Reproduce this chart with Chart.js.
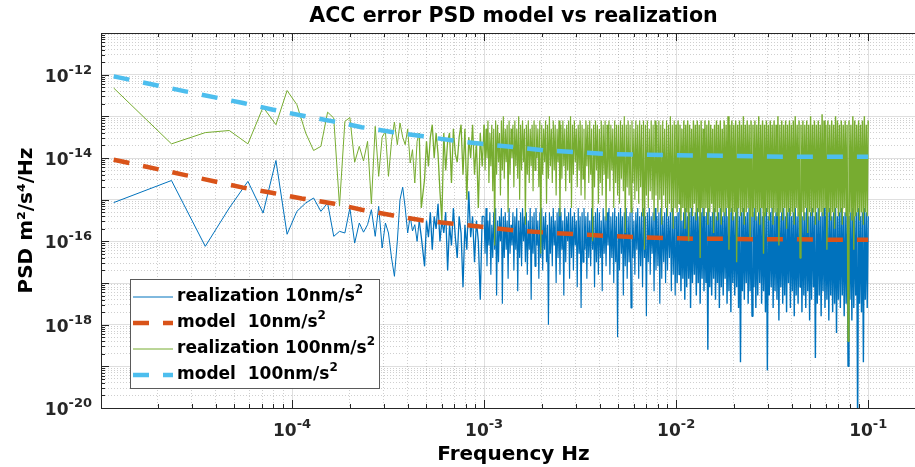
<!DOCTYPE html>
<html>
<head>
<meta charset="utf-8">
<title>ACC error PSD model vs realization</title>
<script src="https://cdn.jsdelivr.net/npm/chart.js@4/dist/chart.umd.min.js"></script>
<style>
  html, body { margin: 0; padding: 0; background: #fff; overflow: hidden; }
  #wrap { width: 915px; height: 467px; overflow: hidden; }
  canvas { display: block; }
</style>
</head>
<body>
<div id="wrap"><canvas id="psdChart" width="926" height="467"></canvas></div>
<script>
// all values are log10 numbers
// frequency grid (log10 Hz), shared by both realizations
const freqLog = [
  -4.929, -4.628, -4.452, -4.327, -4.230, -4.151, -4.084, -4.026, -3.975, -3.929,
  -3.888, -3.850, -3.815, -3.783, -3.753, -3.725, -3.699, -3.674, -3.650, -3.628,
  -3.607, -3.587, -3.567, -3.549, -3.531, -3.514, -3.498, -3.482, -3.467, -3.452,
  -3.438, -3.424, -3.411, -3.398, -3.385, -3.373, -3.361, -3.349, -3.338, -3.327,
  -3.31, -3.30, -3.29, -3.28, -3.27, -3.26, -3.25, -3.24, -3.23, -3.22,
  -3.21, -3.20, -3.19, -3.18, -3.17, -3.16, -3.15, -3.14, -3.13, -3.12,
  -3.11, -3.10, -3.09, -3.08, -3.07, -3.06, -3.05, -3.04, -3.03, -3.02,
  -3.01,
  -3.000, -2.995, -2.990, -2.985, -2.980, -2.975, -2.970, -2.965, -2.960, -2.955,
  -2.950, -2.945, -2.940, -2.935, -2.930, -2.925, -2.920, -2.915, -2.910, -2.905,
  -2.900, -2.895, -2.890, -2.885, -2.880, -2.875, -2.870, -2.865, -2.860, -2.855,
  -2.850, -2.845, -2.840, -2.835, -2.830, -2.825, -2.820, -2.815, -2.810, -2.805,
  -2.800, -2.795, -2.790, -2.785, -2.780, -2.775, -2.770, -2.765, -2.760, -2.755,
  -2.750, -2.745, -2.740, -2.735, -2.730, -2.725, -2.720, -2.715, -2.710, -2.705,
  -2.700, -2.695, -2.690, -2.685, -2.680, -2.675, -2.670, -2.665, -2.660, -2.655,
  -2.650, -2.645, -2.640, -2.635, -2.630, -2.625, -2.620, -2.615, -2.610, -2.605,
  -2.600, -2.595, -2.590, -2.585, -2.580, -2.575, -2.570, -2.565, -2.560, -2.555,
  -2.550, -2.545, -2.540, -2.535, -2.530, -2.525, -2.520, -2.515, -2.510, -2.505,
  -2.500, -2.495, -2.490, -2.485, -2.480, -2.475, -2.470, -2.465, -2.460, -2.455,
  -2.450, -2.445, -2.440, -2.435, -2.430, -2.425, -2.420, -2.415, -2.410, -2.405,
  -2.400, -2.395, -2.390, -2.385, -2.380, -2.375, -2.370, -2.365, -2.360, -2.355,
  -2.350, -2.345, -2.340, -2.335, -2.330, -2.325, -2.320, -2.315, -2.310, -2.305,
  -2.300, -2.295, -2.290, -2.285, -2.280, -2.275, -2.270, -2.265, -2.260, -2.255,
  -2.250, -2.245, -2.240, -2.235, -2.230, -2.225, -2.220, -2.215, -2.210, -2.205,
  -2.200, -2.195, -2.190, -2.185, -2.180, -2.175, -2.170, -2.165, -2.160, -2.155,
  -2.150, -2.145, -2.140, -2.135, -2.130, -2.125, -2.120, -2.115, -2.110, -2.105,
  -2.100, -2.095, -2.090, -2.085, -2.080, -2.075, -2.070, -2.065, -2.060, -2.055,
  -2.050, -2.045, -2.040, -2.035, -2.030, -2.025, -2.020, -2.015, -2.010, -2.005,
  -2.000, -1.995, -1.990, -1.985, -1.980, -1.975, -1.970, -1.965, -1.960, -1.955,
  -1.950, -1.945, -1.940, -1.935, -1.930, -1.925, -1.920, -1.915, -1.910, -1.905,
  -1.900, -1.895, -1.890, -1.885, -1.880, -1.875, -1.870, -1.865, -1.860, -1.855,
  -1.850, -1.845, -1.840, -1.835, -1.830, -1.825, -1.820, -1.815, -1.810, -1.805,
  -1.800, -1.795, -1.790, -1.785, -1.780, -1.775, -1.770, -1.765, -1.760, -1.755,
  -1.750, -1.745, -1.740, -1.735, -1.730, -1.725, -1.720, -1.715, -1.710, -1.705,
  -1.700, -1.695, -1.690, -1.685, -1.680, -1.675, -1.670, -1.665, -1.660, -1.655,
  -1.650, -1.645, -1.640, -1.635, -1.630, -1.625, -1.620, -1.615, -1.610, -1.605,
  -1.600, -1.595, -1.590, -1.585, -1.580, -1.575, -1.570, -1.565, -1.560, -1.555,
  -1.550, -1.545, -1.540, -1.535, -1.530, -1.525, -1.520, -1.515, -1.510, -1.505,
  -1.500, -1.495, -1.490, -1.485, -1.480, -1.475, -1.470, -1.465, -1.460, -1.455,
  -1.450, -1.445, -1.440, -1.435, -1.430, -1.425, -1.420, -1.415, -1.410, -1.405,
  -1.400, -1.395, -1.390, -1.385, -1.380, -1.375, -1.370, -1.365, -1.360, -1.355,
  -1.350, -1.345, -1.340, -1.335, -1.330, -1.325, -1.320, -1.315, -1.310, -1.305,
  -1.300, -1.295, -1.290, -1.285, -1.280, -1.275, -1.270, -1.265, -1.260, -1.255,
  -1.250, -1.245, -1.240, -1.235, -1.230, -1.225, -1.220, -1.215, -1.210, -1.205,
  -1.200, -1.195, -1.190, -1.185, -1.180, -1.175, -1.170, -1.165, -1.160, -1.155,
  -1.150, -1.145, -1.140, -1.135, -1.130, -1.125, -1.120, -1.115, -1.110, -1.105,
  -1.100, -1.095, -1.090, -1.085, -1.080, -1.075, -1.070, -1.065, -1.060, -1.055,
  -1.050, -1.045, -1.040, -1.035, -1.030, -1.025, -1.020, -1.015, -1.010, -1.005,
  -1.000
];

// realization 10nm/s^2 (log10 PSD)
const real10Log = [
  -15.07, -14.54, -16.12, -15.2, -14.56, -15.32, -14.06, -15.83, -15.28, -15.08,
  -14.96, -15.28, -15.08, -15.88, -15.76, -15.8, -15.2, -16.04, -15.56, -15.78,
  -15.6, -15.24, -15.88, -15.16, -16.16, -15.56, -15.8, -16.4, -16.84, -16.0,
  -15.0, -14.7, -15.2, -15.8, -15.4, -15.75, -15.6, -16.0, -15.5, -15.9,
  -16.6, -15.5, -15.9, -15.3, -16.2, -15.4, -15.7, -15.1, -16.0, -15.5,
  -15.8, -15.3, -16.7, -15.6, -16.1, -15.2, -15.9, -16.4, -15.4, -15.8,
  -17.1, -15.6, -16.2, -14.8, -15.9, -15.4, -16.5, -15.5, -16.0, -17.4,
  -15.4,
  -15.4, -16.3, -15.2, -16.6, -15.5, -16.1, -15.3, -16.8, -15.6, -16.4,
  -15.3, -16.2, -15.2, -17.3, -15.5, -16.5, -15.4, -16.0, -15.2, -17.5,
  -15.4, -16.4, -15.3, -16.2, -15.5, -16.9, -15.2, -16.3, -15.6, -16.1,
  -15.3, -16.7, -15.4, -16.2, -15.2, -17.2, -15.5, -16.4, -15.3, -16.6,
  -15.2, -16.0, -15.4, -16.5, -15.3, -16.8, -15.5, -16.2, -15.2, -17.4,
  -15.4, -16.3, -15.3, -16.6, -15.2, -16.1, -15.5, -16.9, -15.3, -16.4,
  -15.2, -16.7, -15.4, -16.2, -15.3, -16.5, -15.6, -18.0, -15.3, -16.3,
  -15.4, -16.6, -15.2, -16.1, -15.5, -17.0, -15.3, -16.4, -15.2, -16.8,
  -15.3, -16.2, -15.5, -17.3, -15.2, -16.5, -15.4, -16.0, -15.3, -16.9,
  -15.2, -16.4, -15.4, -16.7, -15.3, -16.1, -15.5, -17.1, -15.2, -16.3,
  -15.4, -17.6, -15.3, -16.5, -15.2, -16.2, -15.4, -16.9, -15.3, -16.4,
  -15.5, -16.6, -15.2, -16.2, -15.4, -17.1, -15.3, -16.5, -15.2, -16.8,
  -15.3, -16.4, -15.5, -17.2, -15.2, -16.3, -15.4, -16.6, -15.3, -16.1,
  -15.2, -16.8, -15.4, -16.4, -15.3, -17.0, -15.2, -16.5, -15.4, -18.3,
  -15.3, -16.7, -15.2, -16.3, -15.4, -17.3, -15.3, -16.6, -15.2, -16.9,
  -15.4, -16.5, -15.3, -17.6, -15.2, -16.4, -15.5, -16.8, -15.3, -16.2,
  -15.2, -16.9, -15.4, -16.6, -15.3, -17.1, -15.2, -16.4, -15.4, -17.8,
  -15.3, -16.5, -15.2, -16.8, -15.4, -16.3, -15.3, -17.2, -15.2, -16.7,
  -15.4, -16.6, -15.3, -17.5, -15.2, -16.9, -15.4, -16.5, -15.3, -17.0,
  -15.2, -16.7, -15.4, -16.4, -15.3, -17.2, -15.2, -16.8, -15.4, -17.3,
  -15.4, -17.0, -15.3, -16.8, -15.2, -17.2, -15.5, -16.9, -15.3, -17.4,
  -15.2, -17.1, -15.4, -16.9, -15.3, -17.6, -15.2, -17.0, -15.4, -16.8,
  -15.3, -17.3, -15.2, -17.0, -15.4, -17.5, -15.3, -16.9, -15.2, -17.2,
  -15.4, -17.0, -15.3, -18.6, -15.2, -17.1, -15.4, -17.3, -15.3, -16.9,
  -15.2, -17.4, -15.4, -17.0, -15.3, -17.6, -15.2, -17.1, -15.4, -17.3,
  -15.3, -16.9, -15.2, -17.5, -15.4, -17.2, -15.3, -17.7, -15.2, -17.0,
  -15.4, -17.3, -15.3, -17.1, -15.2, -17.6, -15.4, -18.9, -15.3, -17.2,
  -15.2, -17.4, -15.4, -17.0, -15.3, -17.5, -15.2, -17.2, -15.4, -17.8,
  -15.3, -17.1, -15.2, -17.6, -15.4, -17.3, -15.3, -17.0, -15.2, -17.5,
  -15.4, -17.2, -15.3, -17.7, -15.2, -19.1, -15.4, -17.3, -15.3, -17.1,
  -15.2, -17.6, -15.4, -17.2, -15.3, -17.4, -15.2, -17.9, -15.4, -17.1,
  -15.3, -17.5, -15.2, -17.3, -15.4, -17.7, -15.3, -17.0, -15.2, -17.6,
  -15.4, -17.2, -15.3, -17.8, -15.2, -17.3, -15.4, -17.5, -15.3, -17.1,
  -15.2, -17.7, -15.4, -17.3, -15.3, -17.6, -15.2, -17.2, -15.4, -17.9,
  -15.3, -17.4, -15.2, -17.1, -15.4, -18.8, -15.3, -17.5, -15.2, -17.3,
  -15.4, -17.8, -15.3, -17.2, -15.2, -17.6, -15.4, -17.4, -15.3, -17.9,
  -15.2, -17.3, -15.4, -17.7, -15.3, -17.5, -15.2, -18.2, -15.4, -17.4,
  -15.3, -17.6, -15.2, -17.3, -15.4, -17.8, -15.3, -17.5, -15.2, -19.0,
  -15.4, -17.4, -15.3, -17.9, -15.2, -17.6, -15.4, -17.3, -15.3, -20.5,
  -15.2, -17.5, -15.4, -17.7, -15.3, -18.9, -15.2, -17.4, -15.3, -17.6,
  -15.4
];

// realization 100nm/s^2 (log10 PSD)
const real100Log = [
  -12.32, -13.66, -13.39, -13.34, -13.66, -12.78, -13.2, -12.38, -12.72, -13.40,
  -13.82, -13.72, -12.90, -13.04, -15.15, -13.12, -13.03, -14.10, -13.72, -14.07,
  -13.6, -15.1, -13.24, -14.44, -13.5, -13.36, -14.44, -13.6, -13.14, -13.68,
  -13.16, -13.5, -13.68, -13.3, -14.12, -13.8, -14.6, -13.6, -13.4, -15.2,
  -14.5, -13.6, -14.2, -13.5, -13.2, -14.0, -13.4, -13.9, -14.8, -15.5,
  -13.4, -14.3, -13.6, -13.4, -14.6, -13.3, -13.9, -14.1, -13.5, -13.2,
  -14.4, -13.3, -15.0, -13.5, -14.0, -13.2, -14.4, -13.6, -15.2, -13.4,
  -14.2,
  -13.2, -14.3, -13.3, -14.0, -13.1, -14.6, -13.4, -14.2, -13.2, -14.8,
  -13.3, -16.1, -13.1, -14.4, -13.2, -14.1, -13.4, -14.9, -13.1, -14.3,
  -13.0, -14.5, -13.3, -14.1, -13.2, -15.3, -13.1, -14.4, -13.3, -14.0,
  -13.2, -14.7, -13.1, -14.2, -13.3, -14.5, -13.0, -15.0, -13.2, -14.3,
  -13.1, -14.1, -13.3, -15.6, -13.2, -14.4, -13.1, -14.6, -13.3, -14.2,
  -13.2, -14.8, -13.1, -14.3, -13.2, -14.0, -13.3, -14.7, -13.1, -16.3,
  -13.2, -14.4, -13.3, -14.1, -13.1, -15.1, -13.2, -14.5, -13.0, -14.2,
  -13.3, -14.6, -13.1, -14.3, -13.2, -14.9, -13.3, -14.1, -13.1, -15.4,
  -13.2, -14.5, -13.1, -14.2, -13.3, -14.8, -13.2, -14.3, -13.1, -14.6,
  -13.0, -15.2, -13.2, -14.4, -13.1, -14.1, -13.3, -14.7, -13.2, -14.3,
  -13.1, -14.9, -13.2, -14.5, -13.3, -15.0, -13.1, -14.2, -13.2, -14.6,
  -13.1, -14.4, -13.3, -16.0, -13.2, -14.7, -13.1, -14.3, -13.2, -15.1,
  -13.3, -14.6, -13.1, -14.9, -13.2, -14.4, -13.1, -15.5, -13.2, -14.5,
  -13.1, -14.8, -13.2, -14.3, -13.3, -15.2, -13.1, -14.6, -13.2, -14.9,
  -13.2, -15.1, -13.1, -14.5, -13.2, -14.8, -13.0, -15.8, -13.2, -14.7,
  -13.1, -14.9, -13.2, -15.3, -13.1, -14.6, -13.3, -15.0, -13.1, -14.8,
  -13.2, -15.1, -13.1, -14.7, -13.2, -15.4, -13.1, -16.2, -13.2, -14.9,
  -13.1, -15.2, -13.3, -14.8, -13.1, -15.0, -13.2, -15.5, -13.1, -14.9,
  -13.2, -15.3, -13.1, -15.0, -13.2, -15.6, -13.1, -14.9, -13.3, -15.2,
  -13.1, -15.4, -13.2, -15.1, -13.0, -15.3, -13.2, -15.7, -13.1, -15.2,
  -13.2, -15.3, -13.1, -15.1, -13.2, -15.5, -13.3, -15.2, -13.1, -15.7,
  -13.2, -15.3, -13.1, -16.0, -13.2, -15.2, -13.3, -15.4, -13.1, -15.1,
  -13.2, -15.5, -13.1, -15.3, -13.2, -16.4, -13.1, -15.2, -13.3, -15.4,
  -13.1, -15.2, -13.2, -15.6, -13.1, -15.3, -13.2, -15.1, -13.3, -15.8,
  -13.2, -15.3, -13.1, -15.5, -13.2, -15.2, -13.1, -15.6, -13.3, -15.3,
  -13.1, -15.4, -13.2, -15.2, -13.0, -16.2, -13.2, -15.3, -13.1, -15.5,
  -13.2, -15.3, -13.1, -16.5, -13.2, -15.2, -13.1, -15.4, -13.2, -15.3,
  -13.0, -15.6, -13.2, -15.3, -13.1, -15.2, -13.2, -15.9, -13.1, -15.4,
  -13.2, -15.2, -13.1, -15.5, -13.2, -15.3, -13.0, -15.6, -13.2, -15.2,
  -13.1, -16.3, -13.2, -15.4, -13.1, -15.3, -13.2, -15.5, -13.1, -15.2,
  -13.2, -15.6, -13.1, -15.3, -13.2, -15.4, -13.0, -16.1, -13.2, -15.3,
  -13.1, -15.5, -13.2, -15.2, -13.1, -15.7, -13.2, -15.3, -13.1, -15.4,
  -13.2, -15.3, -13.1, -15.6, -13.0, -15.2, -13.2, -15.4, -13.1, -16.4,
  -13.2, -15.3, -13.1, -15.5, -13.2, -15.2, -13.1, -15.8, -13.2, -15.3,
  -13.0, -15.4, -13.2, -15.3, -13.1, -15.6, -13.2, -15.2, -13.1, -15.5,
  -13.2, -15.3, -12.95, -15.4, -13.1, -15.2, -13.2, -16.2, -13.1, -15.3,
  -13.2, -15.5, -13.1, -15.3, -13.2, -15.7, -13.0, -15.2, -13.1, -15.4,
  -13.2, -15.3, -13.1, -15.6, -13.2, -15.2, -13.1, -15.4, -13.2, -18.4,
  -13.1, -15.3, -13.2, -15.5, -13.0, -16.2, -13.1, -15.4, -13.2, -15.3,
  -13.1, -15.5, -13.2, -15.3, -13.1, -15.6, -13.0, -15.3, -13.2, -15.4,
  -13.1
];

// model curves, sampled where read
const modelFreqLog = [-4.929, -4.556, -4.255, -4.099, -3.950, -3.787, -3.638, -3.473, -3.317, -3.161,
  -3.014, -2.840, -2.676, -2.520, -2.363, -2.201, -2.045, -1.878, -1.722, -1.557, -1.401, -1.239, -1.083, -1.000];
const model10Log = [-14.04, -14.41, -14.71, -14.84, -14.97, -15.09, -15.24, -15.38, -15.50, -15.58,
  -15.65, -15.74, -15.79, -15.83, -15.87, -15.90, -15.92, -15.94, -15.94, -15.95, -15.95, -15.96, -15.96, -15.96];
const model100Log = [-12.04, -12.40, -12.68, -12.84, -12.98, -13.12, -13.26, -13.38, -13.48, -13.58,
  -13.66, -13.74, -13.82, -13.86, -13.90, -13.92, -13.93, -13.94, -13.95, -13.96, -13.97, -13.97, -13.97, -13.97];

const seriesLabels = ['realization 10nm/s²', 'model  10nm/s²', 'realization 100nm/s²', 'model  100nm/s²'];
const xTickExps = [-4, -3, -2, -1];
const yTickExps = [-20, -18, -16, -14, -12];
const minorSteps = [1, 2, 3, 4, 5, 6, 7, 8, 9];

const FONT = "'DejaVu Sans', 'Liberation Sans', sans-serif";
const AXIS_COLOR = '#262626';

function toPoints(fx, vy) {
  return fx.map((f, i) => ({ x: Math.pow(10, f), y: Math.pow(10, vy[i]) }));
}

function isDecade(v) {
  const l = Math.log10(v);
  return Math.abs(l - Math.round(l)) < 1e-6;
}

// every 1..9 x 10^n inside the axis range
function decadeTicks(scale) {
  const out = [];
  const lo = Math.floor(Math.log10(scale.min)), hi = Math.ceil(Math.log10(scale.max));
  for (let e = lo; e <= hi; e++) {
    minorSteps.forEach(m => {
      const v = m * Math.pow(10, e);
      if (v >= scale.min * 0.9999 && v <= scale.max * 1.0001) out.push({ value: v });
    });
  }
  scale.ticks = out;
}

function drawPow(ctx, exp, x, baseY, align) {
  const base = '10', sup = String(exp);
  ctx.font = 'bold 17px ' + FONT;
  const wb = ctx.measureText(base).width;
  ctx.font = 'bold 13px ' + FONT;
  const ws = ctx.measureText(sup).width;
  const left = align === 'right' ? x - wb - ws : x - (wb + ws) / 2;
  ctx.textAlign = 'left';
  ctx.textBaseline = 'alphabetic';
  ctx.font = 'bold 17px ' + FONT;
  ctx.fillText(base, left, baseY);
  ctx.font = 'bold 13px ' + FONT;
  ctx.fillText(sup, left + wb, baseY - 8);
}

// the dense part of the spectrum is drawn a little heavier so it reads as a band
const realWidth = s => {
  const f = s.p1.parsed.x;
  if (f > 1.005e-2) return 1.4;
  if (f > 1.005e-3) return 1.15;
  if (f > 4.6e-4) return 1.3;
  return 1;
};

// box on top, inner ticks, power-of-ten labels and the in-axes legend
const matlabAxes = {
  id: 'matlabAxes',
  afterDatasetsDraw(chart) {
    const { ctx, chartArea: a, scales: { x, y } } = chart;
    ctx.save();
    ctx.strokeStyle = AXIS_COLOR;
    ctx.lineWidth = 1;
    ctx.beginPath();
    ctx.moveTo(a.left, a.top + 0.5);
    ctx.lineTo(a.right, a.top + 0.5);
    x.ticks.forEach(t => {
      const px = Math.round(x.getPixelForValue(t.value)) + 0.5;
      const len = isDecade(t.value) ? 8 : 4;
      ctx.moveTo(px, a.bottom); ctx.lineTo(px, a.bottom - len);
      ctx.moveTo(px, a.top); ctx.lineTo(px, a.top + len);
    });
    y.ticks.forEach(t => {
      const py = Math.round(y.getPixelForValue(t.value)) + 0.5;
      const len = isDecade(t.value) ? 8 : 4;
      ctx.moveTo(a.left, py); ctx.lineTo(a.left + len, py);
    });
    ctx.stroke();

    ctx.fillStyle = AXIS_COLOR;
    yTickExps.forEach(e => drawPow(ctx, e, a.left - 9, y.getPixelForValue(Math.pow(10, e)) + 7, 'right'));
    xTickExps.forEach(e => drawPow(ctx, e, x.getPixelForValue(Math.pow(10, e)), a.bottom + 28, 'center'));

    // legend
    const bold17 = 'bold 17px ' + FONT, bold12 = 'bold 12px ' + FONT;
    const items = chart.data.datasets.map(ds => {
      const parts = ds.label.split('²');
      ctx.font = bold17;
      const w0 = ctx.measureText(parts[0]).width;
      ctx.font = bold12;
      const w1 = parts.length > 1 ? ctx.measureText('2').width : 0;
      return { parts, w0, w: w0 + w1, color: ds.borderColor, width: ds.borderWidth, dash: ds.borderDash || [] };
    });
    const maxW = Math.max(...items.map(it => it.w));
    const boxW = Math.round(47 + maxW + 4), boxH = 109;
    const boxL = a.left + 29, boxT = a.bottom - 20 - boxH;
    ctx.fillStyle = '#fff';
    ctx.fillRect(boxL, boxT, boxW, boxH);
    ctx.strokeStyle = '#5a5a5a';
    ctx.lineWidth = 1;
    ctx.strokeRect(boxL + 0.5, boxT + 0.5, boxW, boxH);
    items.forEach((it, i) => {
      const cy = boxT + 18 + i * 26;
      ctx.save();
      ctx.strokeStyle = it.color;
      ctx.lineWidth = it.width;
      ctx.setLineDash(it.dash);
      ctx.beginPath();
      ctx.moveTo(boxL + 3, cy);
      ctx.lineTo(boxL + 43, cy);
      ctx.stroke();
      ctx.restore();
      ctx.fillStyle = '#000';
      ctx.textAlign = 'left';
      ctx.textBaseline = 'middle';
      ctx.font = bold17;
      ctx.fillText(it.parts[0], boxL + 47, cy);
      if (it.parts.length > 1) {
        ctx.font = bold12;
        ctx.fillText('2', boxL + 47 + it.w0, cy - 7);
      }
    });
    ctx.restore();
  }
};

const gridColor = c => (c.tick && isDecade(c.tick.value)) ? 'rgba(38,38,38,0.15)' : 'rgba(38,38,38,0.22)';
const gridDash = c => (c.tick && !isDecade(c.tick.value)) ? [1, 2] : [];

new Chart(document.getElementById('psdChart'), {
  type: 'line',
  data: {
    datasets: [{
      label: seriesLabels[0],
      data: toPoints(freqLog, real10Log),
      borderColor: '#0072BD',
      borderWidth: 1,
      borderJoinStyle: 'bevel',
      segment: { borderWidth: realWidth },
      pointRadius: 0,
      order: 4
    }, {
      label: seriesLabels[1],
      data: toPoints(modelFreqLog, model10Log),
      borderColor: '#D95319',
      borderWidth: 4.5,
      borderDash: [16, 14],
      pointRadius: 0,
      order: 3
    }, {
      label: seriesLabels[2],
      data: toPoints(freqLog, real100Log),
      borderColor: '#77AC30',
      borderWidth: 1,
      borderJoinStyle: 'bevel',
      segment: { borderWidth: realWidth },
      pointRadius: 0,
      order: 2
    }, {
      label: seriesLabels[3],
      data: toPoints(modelFreqLog, model100Log),
      borderColor: '#4DBEEE',
      borderWidth: 4.5,
      borderDash: [16, 14],
      pointRadius: 0,
      order: 1
    }]
  },
  options: {
    responsive: false,
    animation: false,
    events: [],
    layout: { padding: 0 },
    plugins: {
      legend: { display: false },
      tooltip: { enabled: false },
      title: {
        display: true,
        text: 'ACC error PSD model vs realization',
        fullSize: false,
        color: '#000',
        font: { family: FONT, size: 20.6, weight: 'bold', lineHeight: 1.2 },
        padding: { top: 4, bottom: 4.3 }
      }
    },
    scales: {
      x: {
        type: 'logarithmic',
        min: Math.pow(10, -4.995),
        max: 0.2,
        afterBuildTicks: decadeTicks,
        afterFit: s => { s.height = 59; },
        ticks: { display: false },
        grid: { color: gridColor, lineWidth: 1, drawTicks: false },
        border: { display: true, color: AXIS_COLOR, width: 1, dash: gridDash },
        title: {
          display: true,
          text: 'Frequency Hz',
          color: '#000',
          font: { family: FONT, size: 20, weight: 'bold', lineHeight: 1.2 },
          padding: { top: 0, bottom: 0 }
        }
      },
      y: {
        type: 'logarithmic',
        min: 1e-20,
        max: 1e-11,
        afterBuildTicks: decadeTicks,
        afterFit: s => { s.width = 101; },
        ticks: { display: false },
        grid: { color: gridColor, lineWidth: 1, drawTicks: false },
        border: { display: true, color: AXIS_COLOR, width: 1, dash: gridDash },
        title: {
          display: true,
          text: 'PSD m²/s⁴/Hz',
          color: '#000',
          font: { family: FONT, size: 20, weight: 'bold', lineHeight: 1.2 },
          padding: { top: 15, bottom: 0 }
        }
      }
    }
  },
  plugins: [matlabAxes]
});
</script>
</body>
</html>
